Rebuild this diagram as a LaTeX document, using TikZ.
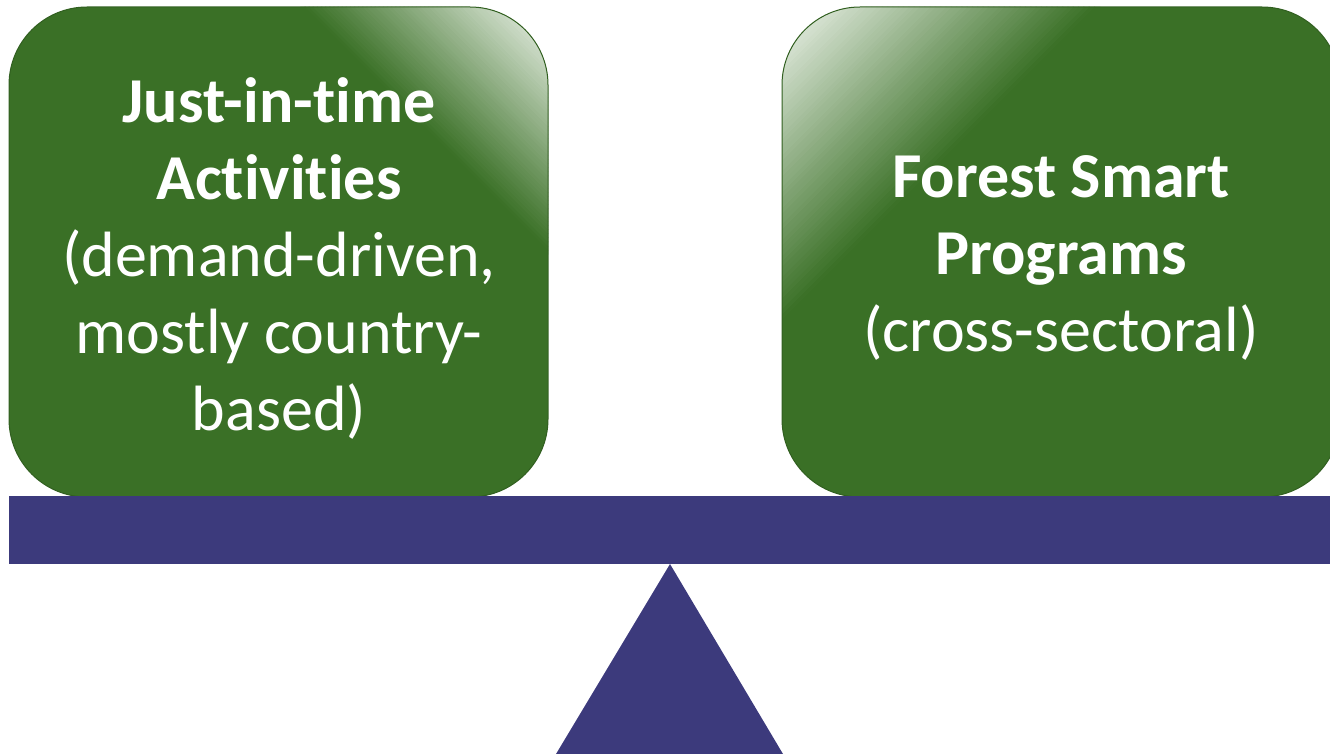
\documentclass[tikz,border=0pt]{standalone}
\usepackage{fontspec}
\setmainfont{Carlito}[Ligatures=NoCommon]
\definecolor{boxgreen}{HTML}{3A7026}
\definecolor{lightg}{HTML}{F0F5EE}
\definecolor{beamblue}{HTML}{3C3A7C}
\begin{document}
\begin{tikzpicture}[x=1pt,y=-1pt,
  boxtext/.style={text=white, align=center, inner sep=0pt, font=\fontsize{64}{77}\selectfont},
  boxedge/.style={draw=boxgreen!85!black, line width=1pt, rounded corners=78pt}]
\useasboundingbox (0,0) rectangle (1330,754);
% left box
\begin{scope}
  \clip[rounded corners=78pt] (9,7) rectangle (548,497);
  \fill[boxgreen] (9,7) rectangle (548,497);
  \begin{scope}[shift={(548,7)}, rotate=45]
    \foreach \i in {0,...,59}{
      \pgfmathtruncatemacro\p{100*\i/59}
      \fill[lightg!\p!boxgreen] ({-175+175*\i/60},-700) rectangle ({-175+175*(\i+1)/60+0.8},700);
    }
  \end{scope}
\end{scope}
\path[boxedge] (9,7) rectangle (548,497);
% right box
\begin{scope}
  \clip[rounded corners=78pt] (782,7) rectangle (1340,497);
  \fill[boxgreen] (782,7) rectangle (1340,497);
  \begin{scope}[shift={(782,7)}, rotate=135]
    \foreach \i in {0,...,59}{
      \pgfmathtruncatemacro\p{100*\i/59}
      \fill[lightg!\p!boxgreen] ({-225+225*\i/60},-700) rectangle ({-225+225*(\i+1)/60+0.8},700);
    }
  \end{scope}
\end{scope}
\path[boxedge] (782,7) rectangle (1340,497);
% beam and fulcrum
\fill[beamblue] (9,496) rectangle (1335,564);
\coordinate (apex) at (670,564);
\coordinate (bl) at (556,754);
\coordinate (br) at (783,754);
\fill[beamblue] (apex) -- (bl) -- (br) -- cycle;
% texts
\node[boxtext] (lefttext) at (279,258) {\textbf{Just-in-time}\\ \textbf{Activities}\\ (demand-driven,\\ mostly country-\\ based)};
\node[boxtext] (righttext) at (1061,258) {\textbf{Forest Smart}\\ \textbf{Programs}\\ (cross-sectoral)};
\end{tikzpicture}
\end{document}
